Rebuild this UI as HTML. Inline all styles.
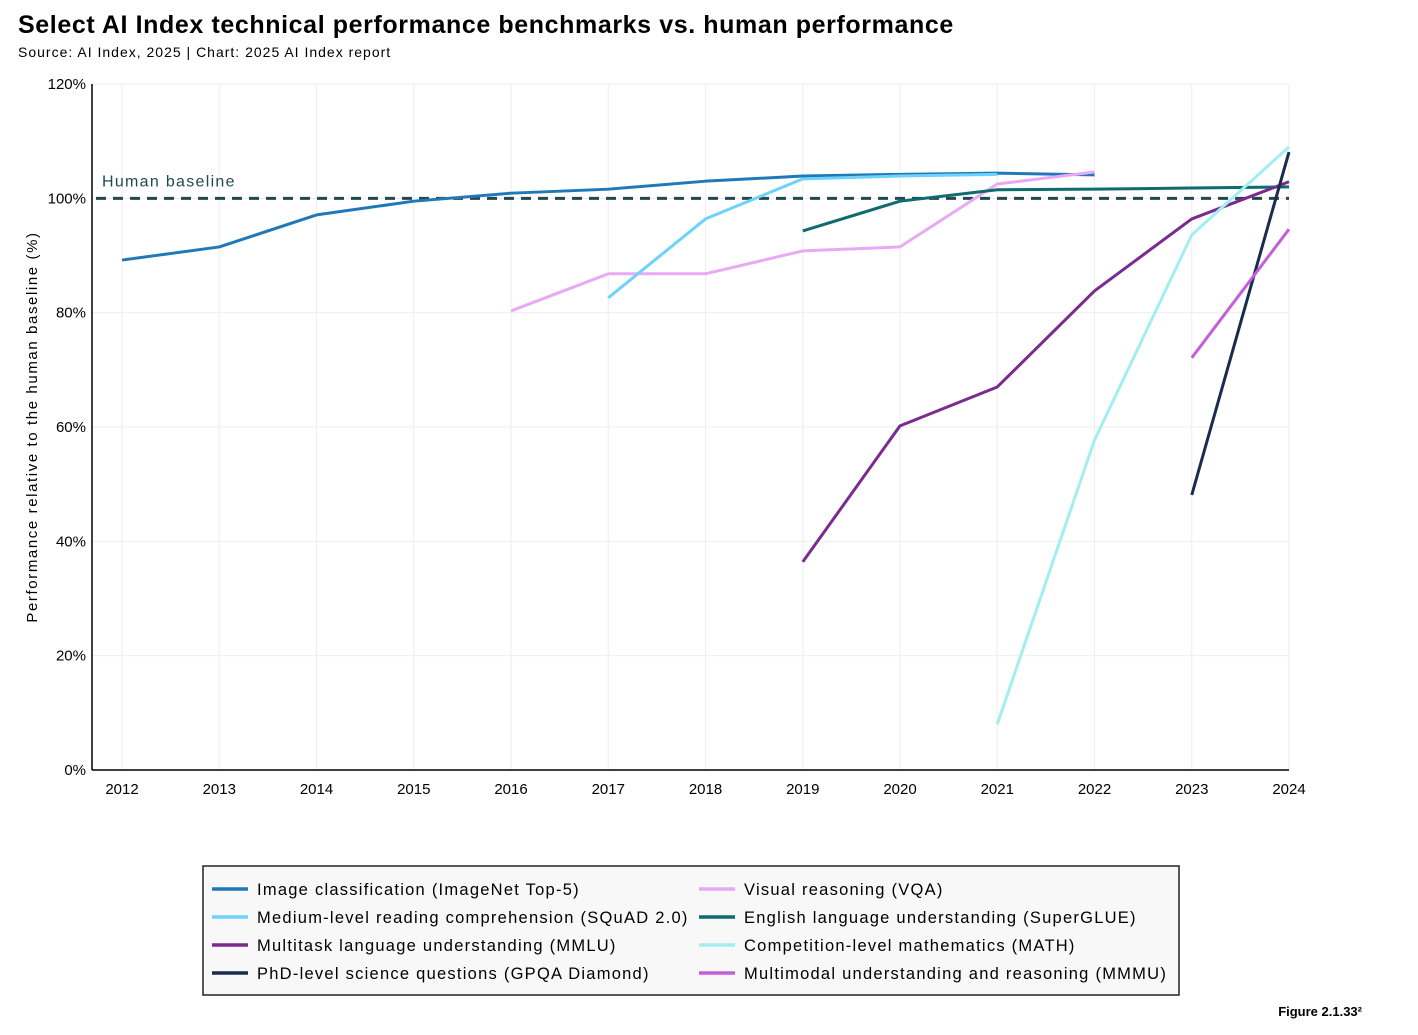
<!DOCTYPE html>
<html><head><meta charset="utf-8"><style>
body{margin:0;background:#fff;font-family:"Liberation Sans",sans-serif;}
#wrap{position:relative;width:1418px;height:1030px;}
</style></head><body>
<div id="wrap">
<svg id="chart" width="1418" height="1030" xmlns="http://www.w3.org/2000/svg">
<text x="18" y="33" font-size="25" font-weight="bold" letter-spacing="0.6" fill="#000">Select AI Index technical performance benchmarks vs. human performance</text>
<text x="18" y="57" font-size="14" letter-spacing="1" fill="#000">Source: AI Index, 2025 | Chart: 2025 AI Index report</text>
<g id="grid"></g><g id="axes"></g><g id="lines"></g>
<text x="1362" y="1016" font-size="13" font-weight="bold" text-anchor="end" fill="#000">Figure 2.1.33²</text>
</svg>
</div>
<script>
const years=[2012,2013,2014,2015,2016,2017,2018,2019,2020,2021,2022,2023,2024];
const yTicks=[0,20,40,60,80,100,120];
const names=["Image classification (ImageNet Top-5)","Medium-level reading comprehension (SQuAD 2.0)","Multitask language understanding (MMLU)","PhD-level science questions (GPQA Diamond)","Visual reasoning (VQA)","English language understanding (SuperGLUE)","Competition-level mathematics (MATH)","Multimodal understanding and reasoning (MMMU)"];
const colors=["#2178b9","#6dd3fb","#7b2a8e","#1a2c4e","#e8aaf4","#0e6b6e","#a3eef0","#c55fd8"];
const imagenetYears=[2012,2013,2014,2015,2016,2017,2018,2019,2020,2021,2022];
const imagenetVals=[89.2,91.5,97.1,99.5,100.9,101.6,103.0,103.9,104.2,104.4,104.1];
const squadYears=[2017,2018,2019,2020,2021];
const squadVals=[82.6,96.4,103.4,103.9,104.2];
const mmluYears=[2019,2020,2021,2022,2023,2024];
const mmluVals=[36.4,60.2,67.0,83.8,96.4,102.9];
const gpqaYears=[2023,2024];
const gpqaVals=[48.1,108.1];
const vqaYears=[2016,2017,2018,2019,2020,2021,2022];
const vqaVals=[80.3,86.8,86.8,90.8,91.5,102.5,104.6];
const superglueYears=[2019,2020,2021,2022,2023,2024];
const superglueVals=[94.3,99.5,101.5,101.6,101.8,102.0];
const mathYears=[2021,2022,2023,2024];
const mathVals=[8.0,57.7,93.6,109.0];
const mmmuYears=[2023,2024];
const mmmuVals=[72.1,94.6];
const baseline=100;
const seriesYears=[imagenetYears,squadYears,mmluYears,gpqaYears,vqaYears,superglueYears,mathYears,mmmuYears];
const seriesVals=[imagenetVals,squadVals,mmluVals,gpqaVals,vqaVals,superglueVals,mathVals,mmmuVals];
const drawOrder=[0,4,1,5,2,6,3,7];

const NS="http://www.w3.org/2000/svg";
const X0=122,X1=1289,Y0=770,Y1=84;
function xs(y){return X0+(y-2012)*(X1-X0)/12;}
function ys(v){return Y0-v*(Y0-Y1)/120;}
function mk(t,a,p){const e=document.createElementNS(NS,t);for(const k in a)e.setAttribute(k,a[k]);p.appendChild(e);return e;}
const grid=document.getElementById('grid'),axes=document.getElementById('axes'),lines=document.getElementById('lines');
years.forEach(y=>{
 const l=mk('line',{x1:xs(y),x2:xs(y),y1:Y1,y2:Y0,stroke:'#eeeeee','stroke-width':1},grid);
 
 
 const t=mk('text',{x:xs(y),y:794,'font-size':15,'text-anchor':'middle',fill:'#000'},axes);
 t.textContent=y;
 
 
});
yTicks.forEach(v=>{
 const l=mk('line',{x1:92,x2:X1,y1:ys(v),y2:ys(v),stroke:'#eeeeee','stroke-width':1},grid);
 
 
 const t=mk('text',{x:86,y:ys(v)+5,'font-size':15,'text-anchor':'end',fill:'#000'},axes);
 t.textContent=v+'%';
 
 
});
let a=mk('line',{x1:92,x2:92,y1:Y1,y2:Y0,stroke:'#000','stroke-width':1.5},axes);


a=mk('line',{x1:92,x2:X1,y1:Y0,y2:Y0,stroke:'#000','stroke-width':1.5},axes);


let yt=mk('text',{x:0,y:0,'font-size':15,'letter-spacing':1.6,'text-anchor':'middle',fill:'#000',transform:'translate(37,427) rotate(-90)'},axes);
yt.textContent='Performance relative to the human baseline (%)';


let bl=mk('line',{x1:96,x2:X1,y1:ys(baseline),y2:ys(baseline),stroke:'#234850','stroke-width':3,'stroke-dasharray':'10 7'},lines);


let blt=mk('text',{x:102,y:ys(baseline)-12,'font-size':16,'letter-spacing':1.3,fill:'#234850'},lines);
blt.textContent='Human baseline';


drawOrder.forEach(i=>{
 const pts=seriesYears[i].map((y,j)=>xs(y)+','+ys(seriesVals[i][j])).join(' ');
 const p=mk('polyline',{points:pts,fill:'none',stroke:colors[i],'stroke-width':3,'stroke-linejoin':'round'},lines);
 
 
});
const lg=mk('g',{},document.getElementById('chart'));


mk('rect',{x:203,y:866,width:976,height:129,fill:'#f8f8f8',stroke:'#222','stroke-width':1.5},lg);
names.forEach((n,i)=>{
 const col=Math.floor(i/4),row=i%4;
 const sx=col?699:212,ty=889+row*28;
 const g=mk('g',{},lg);
 
 
 mk('line',{x1:sx,x2:sx+36,y1:ty,y2:ty,stroke:colors[i],'stroke-width':3.5},g);
 const t=mk('text',{x:sx+45,y:ty+6,'font-size':16.5,'letter-spacing':1.25,fill:'#000'},g);
 t.textContent=n;
});
</script>
</body></html>
